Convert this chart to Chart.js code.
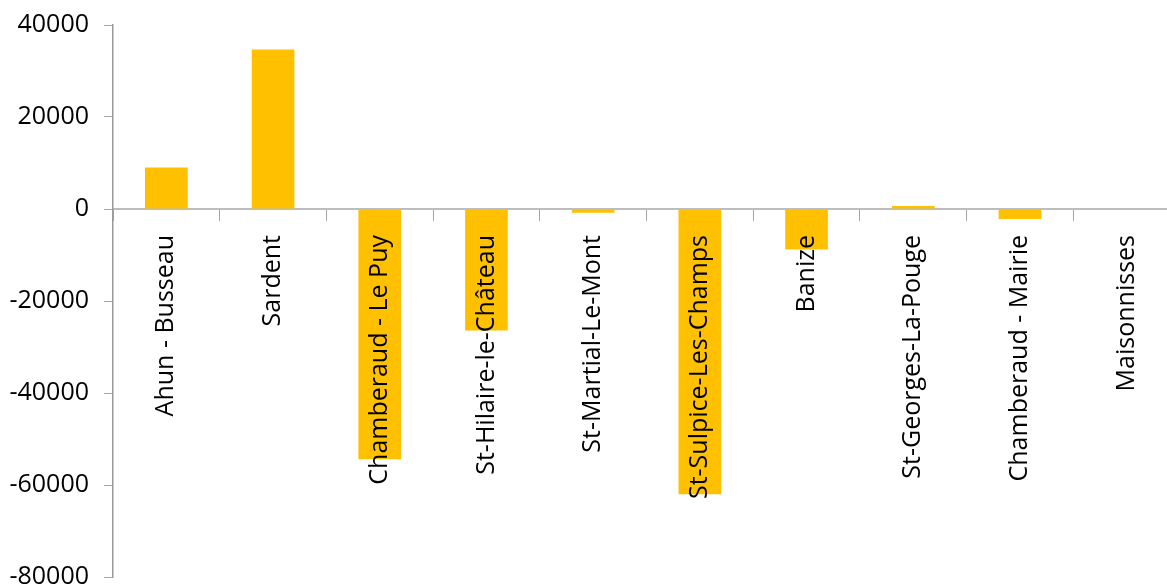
<!DOCTYPE html>
<html>
<head>
<meta charset="utf-8">
<script src="https://cdn.jsdelivr.net/npm/chart.js@4.4.0/dist/chart.umd.min.js"></script>
<style>
    html, body { margin: 0; padding: 0; background: #fff; overflow: hidden; }
    #wrap { position: absolute; left: 0; top: 0; width: 1180px; height: 587px; }
</style>
</head>
<body>
<div id="wrap"><canvas id="chartCanvas"></canvas></div>
<script>
const sites = [
    "Ahun - Busseau", "Sardent", "Chamberaud - Le Puy", "St-Hilaire-le-Château",
    "St-Martial-Le-Mont", "St-Sulpice-Les-Champs", "Banize", "St-Georges-La-Pouge",
    "Chamberaud - Mairie", "Maisonnisses"
];
const balance = [9000, 34700, -54400, -26400, -800, -62000, -8800, 650, -2200, 0];
const yMin = -80000;
const yMax = 40000;
const yStep = 20000;

const fontFamily = "'Open Sans', sans-serif";
const axisColor = "#a6a6a6";

const ctx = document.getElementById("chartCanvas").getContext("2d");

const chart = new Chart(ctx, {
    type: "bar",
    data: {
        labels: sites,
        datasets: [{
            data: balance,
            backgroundColor: "#ffc000", // gold bars
            borderWidth: 0,
            categoryPercentage: 1,
            barPercentage: 0.4
        }]
    },
    options: {
        responsive: true,
        maintainAspectRatio: false,
        animation: false,
        layout: { padding: { top: 25, bottom: 10, left: 0, right: 0 } },
        plugins: {
            legend: { display: false },
            tooltip: { enabled: false }
        },
        scales: {
            x: {
                position: { y: 0 }, // axis sits on the zero line
                grid: {
                    drawOnChartArea: false,
                    drawTicks: true,
                    tickLength: 11,
                    color: axisColor,
                    offset: true
                },
                border: { display: true, color: "#bdbdbd", width: 2 },
                ticks: {
                    z: 1, // labels on top of the bars
                    autoSkip: false,
                    minRotation: 90,
                    maxRotation: 90,
                    padding: 15,
                    color: "#000",
                    font: { family: fontFamily, size: 25 }
                }
            },
            y: {
                min: yMin,
                max: yMax,
                afterFit: function (scale) {
                    // fixed axis width, and no extra room for the end labels
                    scale.width = 113;
                    scale.paddingTop = 0;
                    scale.paddingBottom = 0;
                },
                grid: {
                    drawOnChartArea: false,
                    drawTicks: true,
                    tickLength: 9,
                    color: axisColor
                },
                border: { display: true, color: "#9a9a9a", width: 1.5 },
                ticks: {
                    stepSize: yStep,
                    padding: 15,
                    color: "#000",
                    font: { family: fontFamily, size: 25 },
                    callback: function (value) {
                        return String(value);
                    }
                }
            }
        }
    }
});
</script>
</body>
</html>
